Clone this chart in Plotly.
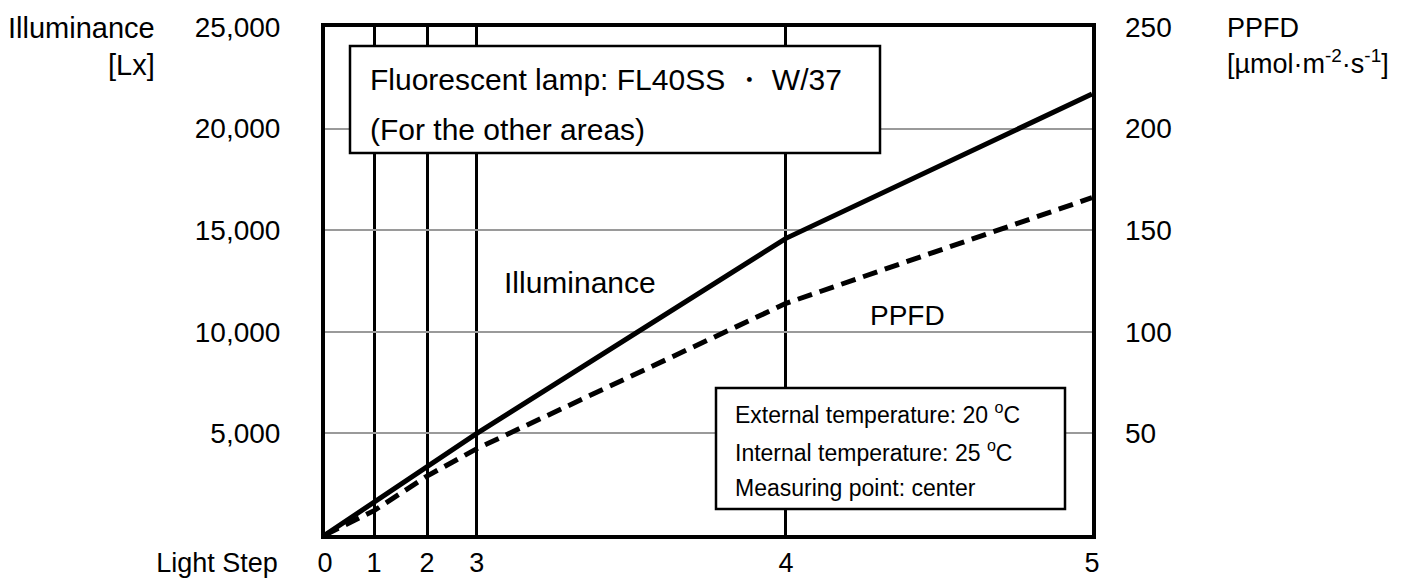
import plotly.graph_objects as go

# ---------------- data ----------------
steps = ["0", "1", "2", "3", "4", "5"]
step_pos = [0, 6.4, 13.3, 19.8, 60.1, 100]          # position of each light step on the horizontal scale
illuminance = [0, 1600, 3350, 5000, 14600, 21700]     # Lx
ppfd = [0, 12, 29, 42.5, 114, 166]                    # umol m-2 s-1
left_ticks = [5000, 10000, 15000, 20000, 25000]
left_labels = ["5,000", "10,000", "15,000", "20,000", "25,000"]
right_ticks = [50, 100, 150, 200, 250]
right_labels = ["50", "100", "150", "200", "250"]
x_title = "Light Step"

# ---------------- layout geometry ----------------
# The page body has an 8 px default margin, so the figure is drawn 8 px in
# from the top-left corner of the window; page coordinates below are
# converted to figure coordinates by subtracting OFF.
OFF = 8
WIN_W, WIN_H = 1409, 581
W, H = WIN_W - OFF, WIN_H - OFF
TOP, BOTTOM = 27, 535        # frame top / bottom (page px)
X0, X1 = 325, 1092           # frame left / right (page px)
T = TOP - OFF
B = H - (BOTTOM - OFF)
ph = H - T - B
FONT = "Liberation Sans, Arial, sans-serif"
STANDOFF_X = 1


def px(x):
    return (x - OFF) / W


def py(y):
    return (BOTTOM - y) / ph


fig = go.Figure()
fig.add_trace(go.Scatter(x=step_pos, y=illuminance, mode="lines",
                         line=dict(color="black", width=5), showlegend=False,
                         name="Illuminance"))
fig.add_trace(go.Scatter(x=step_pos, y=ppfd, mode="lines", yaxis="y2",
                         line=dict(color="black", width=5, dash="15px,8px"),
                         showlegend=False, name="PPFD"))
# empty helper subplot carrying the "Light Step" caption on the step-label baseline
fig.add_trace(go.Scatter(x=[None], y=[None], xaxis="x2", yaxis="y3",
                         mode="lines", showlegend=False, hoverinfo="skip"))

axis_font = dict(family=FONT, size=27, color="black")
cap_right = 278
cap_width = 122

fig.update_layout(
    width=W, height=H,
    margin=dict(l=0, r=0, t=T, b=B, pad=0),
    paper_bgcolor="white", plot_bgcolor="white",
    font=dict(family=FONT, color="black"),
    xaxis=dict(domain=[px(X0), px(X1)], range=[0, 100], anchor="y",
               tickvals=step_pos, ticktext=steps, automargin=False,
               showgrid=True, gridcolor="black", gridwidth=2.5,
               showline=True, linecolor="black", linewidth=4, mirror=True,
               zeroline=False, ticks="", tickfont=axis_font,
               ticklabelstandoff=STANDOFF_X),
    xaxis2=dict(domain=[0, px(X0 - 20)], range=[OFF, X0 - 20], anchor="y3",
                tickvals=[cap_right - cap_width / 2], ticktext=[x_title],
                showgrid=False, automargin=False,
                showline=True, linecolor="rgba(0,0,0,0)", linewidth=4,
                zeroline=False, ticks="", tickfont=axis_font,
                ticklabelstandoff=STANDOFF_X),
    yaxis=dict(range=[0, 25000], tickvals=left_ticks, ticktext=left_labels,
               anchor="x", automargin=False,
               showgrid=True, gridcolor="#9a9a9a", gridwidth=1.5,
               showline=True, linecolor="black", linewidth=4, mirror=True,
               zeroline=False, ticks="", tickfont=dict(family=FONT, size=28, color="black"),
               ticklabelstandoff=35),
    yaxis2=dict(range=[0, 250], tickvals=right_ticks, ticktext=right_labels,
                overlaying="y", side="right", anchor="x", showgrid=False,
                automargin=False,
                zeroline=False, ticks="", tickfont=dict(family=FONT, size=28, color="black"),
                ticklabelstandoff=32, showline=False),
    yaxis3=dict(range=[0, 1], anchor="x2", visible=False, automargin=False),
)

# boxes
fig.add_shape(type="rect", xref="paper", yref="paper",
              x0=px(350), x1=px(880), y0=py(153), y1=py(46),
              line=dict(color="black", width=2.5), fillcolor="white", layer="above")
fig.add_shape(type="rect", xref="paper", yref="paper",
              x0=px(716), x1=px(1065), y0=py(509), y1=py(388),
              line=dict(color="black", width=2.5), fillcolor="white", layer="above")

ann = []


def text(s, x, y, size, xanchor="left"):
    ann.append(dict(text=s, x=px(x), y=py(y), xref="paper", yref="paper",
                    xanchor=xanchor, yanchor="middle", showarrow=False,
                    font=dict(family=FONT, size=size, color="black")))


text("Fluorescent lamp: FL40SS \u30fb W/37", 368, 79, 30)
text("(For the other areas)", 368, 130, 30)
text("External temperature: 20 <sup>o</sup>C", 733, 413, 23)
text("Internal temperature: 25 <sup>o</sup>C", 733, 451, 23)
text("Measuring point: center", 733, 488, 23)
text("Illuminance", 502, 282, 30)
text("PPFD", 868, 315, 28)
text("Illuminance", 157, 28, 29, "right")
text("[Lx]", 157, 65, 29, "right")
text("PPFD", 1225, 28, 27)
text("[\u00b5mol\u00b7m<sup>-2</sup>\u00b7s<sup>-1</sup>]", 1225, 62, 27)
fig.update_layout(annotations=ann)

fig.write_html("out.html")
